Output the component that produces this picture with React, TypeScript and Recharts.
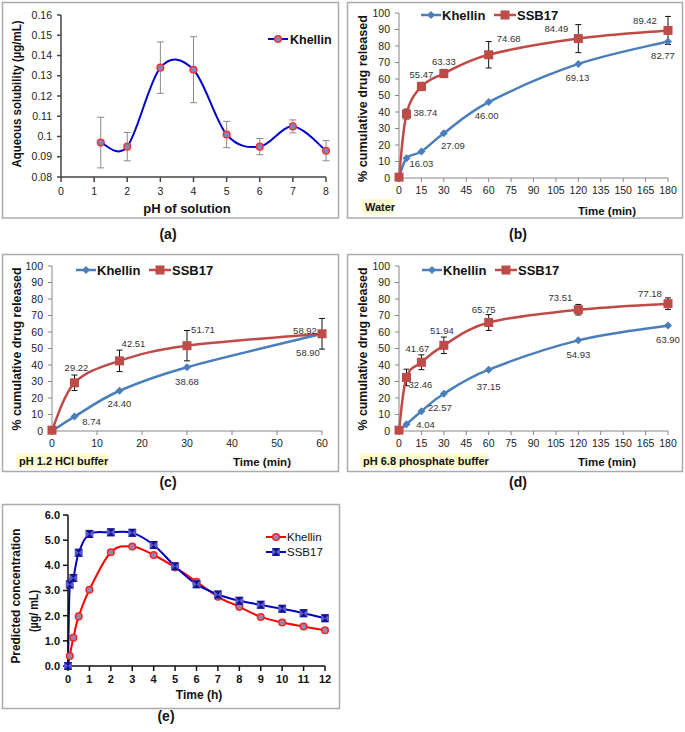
import React from 'react';
import { LineChart, Line, XAxis, YAxis, ErrorBar, LabelList } from 'recharts';

const FONT = '"Liberation Sans", Arial, Helvetica, sans-serif';
const BLUE = '#4a7ebb';
const RED = '#be4b48';

// (a) aqueous solubility vs pH
const phLevels = [1.2, 2, 3, 4, 5, 6, 7, 8];
const solubility = [0.097, 0.095, 0.134, 0.133, 0.101, 0.095, 0.105, 0.093];
const solubilityErr = [0.0125, 0.007, 0.0127, 0.0163, 0.0065, 0.004, 0.0032, 0.005];
const phTicks = [0, 1, 2, 3, 4, 5, 6, 7, 8];
const solubilityTicks = [0.08, 0.09, 0.1, 0.11, 0.12, 0.13, 0.14, 0.15, 0.16];

// release profiles
const percentTicks = [0, 10, 20, 30, 40, 50, 60, 70, 80, 90, 100];
const sampleMin = [0, 5, 15, 30, 60, 120, 180];
const minTicks180 = [0, 15, 30, 45, 60, 75, 90, 105, 120, 135, 150, 165, 180];

// (b) water
const waterKhellin = [0, 12, 16.03, 27.09, 46.0, 69.13, 82.77];
const waterSsb = [0.5, 38.74, 55.47, 63.33, 74.68, 84.49, 89.42];
const waterSsbErr = [0, 3, 2.5, 2.5, 8, 8.5, 8.5];
const waterKhellinLbl = ['', '', '16.03', '27.09', '46.00', '69.13', '82.77'];
const waterSsbLbl = ['', '38.74', '55.47', '63.33', '74.68', '84.49', '89.42'];

// (c) pH 1.2 HCl buffer
const sampleMinHcl = [0, 5, 15, 30, 60];
const minTicks60 = [0, 10, 20, 30, 40, 50, 60];
const hclKhellin = [0, 8.74, 24.4, 38.68, 58.9];
const hclSsb = [0.5, 29.22, 42.51, 51.71, 58.92];
const hclSsbErr = [0, 4.7, 6.5, 9.2, 9.3];
const hclKhellinLbl = ['', '8.74', '24.40', '38.68', '58.90'];
const hclSsbLbl = ['', '29.22', '42.51', '51.71', '58.92'];

// (d) pH 6.8 phosphate buffer
const phosKhellin = [0, 4.04, 12, 22.57, 37.15, 54.93, 63.9];
const phosSsb = [0.5, 32.46, 41.67, 51.94, 65.75, 73.51, 77.18];
const phosSsbErr = [0, 5, 4.5, 5, 4.8, 3.2, 3.5];
const phosKhellinLbl = ['', '4.04', '', '22.57', '37.15', '54.93', '63.90'];
const phosSsbLbl = ['', '32.46', '41.67', '51.94', '65.75', '73.51', '77.18'];

// (e) predicted plasma concentration
const pkHours = [0, 0.083, 0.25, 0.5, 1, 2, 3, 4, 5, 6, 7, 8, 9, 10, 11, 12];
const pkKhellin = [0, 0.4, 1.12, 1.97, 3.03, 4.52, 4.75, 4.41, 3.92, 3.35, 2.75, 2.35, 1.95, 1.73, 1.57, 1.42];
const pkSsb = [0, 3.24, 3.5, 4.5, 5.25, 5.31, 5.29, 4.81, 3.96, 3.25, 2.84, 2.59, 2.43, 2.27, 2.1, 1.9];
const hourTicks = [0, 1, 2, 3, 4, 5, 6, 7, 8, 9, 10, 11, 12];
const concTicks = [0, 1, 2, 3, 4, 5, 6];

// label nudges (px) per point
type Off = number[][];
const waterKhOff: Off = [[0, 0], [0, 0], [0, 12], [9, 12], [-2, 14], [-1, 14], [-5, 14]];
const waterSsbOff: Off = [[0, 0], [19, -1], [0, -12], [0, -12], [20, -16], [-22, -10], [-23, -10]];
const hclKhOff: Off = [[0, 0], [17, 5], [0, 13], [0, 14], [-14, 19]];
const hclSsbOff: Off = [[0, 0], [2, -15], [14, -17], [16, -16], [-17, -3]];
const phosKhOff: Off = [[0, 0], [19, 0], [0, 0], [-4, 14], [0, 17], [0, 14], [0, 14]];
const phosSsbOff: Off = [[0, 0], [14, 7], [-4, -14], [-2, -15], [-5, -13], [-18, -12], [-18, -10]];

// Excel-like smoothed line (catmull-rom style bezier)
const excelSmooth: any = (ctx: any) => {
  let pts: number[][] = [];
  return {
    areaStart() {},
    areaEnd() {},
    lineStart() {
      pts = [];
    },
    point(x: number, y: number) {
      pts.push([+x, +y]);
    },
    lineEnd() {
      if (!pts.length) return;
      ctx.moveTo(pts[0][0], pts[0][1]);
      for (let i = 0; i < pts.length - 1; i++) {
        const p0 = pts[i - 1] || pts[i];
        const p1 = pts[i];
        const p2 = pts[i + 1];
        const p3 = pts[i + 2] || p2;
        ctx.bezierCurveTo(
          p1[0] + (p2[0] - p0[0]) / 6,
          p1[1] + (p2[1] - p0[1]) / 6,
          p2[0] - (p3[0] - p1[0]) / 6,
          p2[1] - (p3[1] - p1[1]) / 6,
          p2[0],
          p2[1]
        );
      }
    },
  };
};

const dataLabel = (offsets: Off) => (p: any) => {
  if (p.value === '' || p.value == null) return null;
  const vb = p.viewBox || {};
  const x = p.x ?? vb.x;
  const y = p.y ?? vb.y;
  const [dx, dy] = offsets[p.index] || [0, 0];
  return (
    <text x={x + dx} y={y + dy} dy="0.35em" textAnchor="middle" fontSize={9.5} fill="#333" fontFamily={FONT}>
      {p.value}
    </text>
  );
};

const diamondDot = (color: string, r: number) => (p: any) => {
  const { cx, cy, index } = p;
  if (cx == null || cy == null) return <g key={`d${index}`} />;
  return (
    <polygon key={`d${index}`} points={`${cx},${cy - r} ${cx + r},${cy} ${cx},${cy + r} ${cx - r},${cy}`} fill={color} />
  );
};

const squareDot = (color: string, s: number) => (p: any) => {
  const { cx, cy, index } = p;
  if (cx == null || cy == null) return <g key={`s${index}`} />;
  return <rect key={`s${index}`} x={cx - s / 2} y={cy - s / 2} width={s} height={s} fill={color} />;
};

const ringDot = (stroke: string, fill: string, r: number) => (p: any) => {
  const { cx, cy, index } = p;
  if (cx == null || cy == null) return <g key={`c${index}`} />;
  return <circle key={`c${index}`} cx={cx} cy={cy} r={r} fill={fill} stroke={stroke} strokeWidth={1.5} />;
};

const bowtieDot = (p: any) => {
  const { cx, cy, index } = p;
  if (cx == null || cy == null) return <g key={`b${index}`} />;
  const s = 4;
  return (
    <g key={`b${index}`}>
      <rect x={cx - s} y={cy - s} width={2 * s} height={2 * s} fill="#5a5ad0" />
      <polygon points={`${cx - s},${cy - s} ${cx + s},${cy - s} ${cx},${cy} `} fill="#12128a" />
      <polygon points={`${cx - s},${cy + s} ${cx + s},${cy + s} ${cx},${cy} `} fill="#12128a" />
    </g>
  );
};

const releaseTick = { fill: '#222', fontSize: 10.5, fontFamily: FONT };

interface ReleaseProps {
  left: number;
  top: number;
  width: number;
  height: number;
  yAxisWidth: number;
  marginTop: number;
  marginRight: number;
  xAxisHeight: number;
  times: number[];
  khellin: number[];
  ssb: number[];
  ssbErr: number[];
  khellinLbl: string[];
  ssbLbl: string[];
  khellinOff: Off;
  ssbOff: Off;
  xMax: number;
  xTicks: number[];
}

const ReleaseChart = (p: ReleaseProps) => {
  const rows = p.times.map((t, i) => ({
    t,
    khellin: p.khellin[i],
    ssb: p.ssb[i],
    ssbErr: p.ssbErr[i],
    kLbl: p.khellinLbl[i],
    sLbl: p.ssbLbl[i],
  }));
  return (
    <div style={{ position: 'absolute', left: p.left, top: p.top }}>
      <LineChart
        width={p.width}
        height={p.height}
        data={rows}
        margin={{ top: p.marginTop, right: p.marginRight, bottom: 0, left: 0 }}
      >
        <XAxis
          dataKey="t"
          type="number"
          domain={[0, p.xMax]}
          ticks={p.xTicks}
          interval={0}
          height={p.xAxisHeight}
          stroke="#868686"
          tick={releaseTick}
          tickSize={4}
          tickMargin={5}
        />
        <YAxis
          type="number"
          domain={[0, 100]}
          ticks={percentTicks}
          interval={0}
          width={p.yAxisWidth}
          stroke="#868686"
          tick={releaseTick}
          tickSize={4}
          tickMargin={5}
        />
        <Line
          dataKey="khellin"
          type={excelSmooth}
          stroke={BLUE}
          strokeWidth={2.5}
          dot={diamondDot(BLUE, 4)}
          activeDot={false}
          isAnimationActive={false}
        >
          <LabelList dataKey="kLbl" content={dataLabel(p.khellinOff)} />
        </Line>
        <Line
          dataKey="ssb"
          type={excelSmooth}
          stroke={RED}
          strokeWidth={2.5}
          dot={squareDot(RED, 9)}
          activeDot={false}
          isAnimationActive={false}
        >
          <ErrorBar dataKey="ssbErr" width={3} stroke="#111" strokeWidth={1} direction="y" isAnimationActive={false} />
          <LabelList dataKey="sLbl" content={dataLabel(p.ssbOff)} />
        </Line>
      </LineChart>
    </div>
  );
};

const SolubilityChart = () => {
  const rows = phLevels.map((ph, i) => ({ ph, sol: solubility[i], err: solubilityErr[i] }));
  return (
    <div style={{ position: 'absolute', left: 0, top: 0 }}>
      <LineChart width={340} height={220} data={rows} margin={{ top: 15, right: 14, bottom: 0, left: 0 }}>
        <XAxis
          dataKey="ph"
          type="number"
          domain={[0, 8]}
          ticks={phTicks}
          interval={0}
          height={43}
          stroke="#444"
          strokeWidth={1.5}
          tick={{ fill: '#222', fontSize: 10.5, fontFamily: FONT }}
          tickSize={5}
          tickMargin={6}
        />
        <YAxis
          type="number"
          domain={[0.08, 0.16]}
          ticks={solubilityTicks}
          interval={0}
          width={61}
          stroke="#444"
          strokeWidth={1.5}
          tick={{ fill: '#222', fontSize: 10.5, fontFamily: FONT }}
          tickSize={4}
          tickMargin={5}
          tickFormatter={(v: number) => String(Number(v.toFixed(2)))}
        />
        <Line
          dataKey="sol"
          type={excelSmooth}
          stroke="#0000cc"
          strokeWidth={2}
          dot={ringDot('#ff3030', '#7a86c8', 3.3)}
          activeDot={false}
          isAnimationActive={false}
        >
          <ErrorBar dataKey="err" width={3.5} stroke="#8a8a8a" strokeWidth={1} direction="y" isAnimationActive={false} />
        </Line>
      </LineChart>
    </div>
  );
};

const PkChart = () => {
  const rows = pkHours.map((h, i) => ({ h, khellin: pkKhellin[i], ssb: pkSsb[i] }));
  const tick = { fill: '#111', fontSize: 11, fontWeight: 700, fontFamily: FONT };
  return (
    <div style={{ position: 'absolute', left: 0, top: 500 }}>
      <LineChart width={345} height={210} data={rows} margin={{ top: 15, right: 20, bottom: 0, left: 0 }}>
        <XAxis
          dataKey="h"
          type="number"
          domain={[0, 12]}
          ticks={hourTicks}
          interval={0}
          height={44}
          stroke="#111"
          strokeWidth={1.5}
          tick={tick}
          tickSize={5}
          tickMargin={4}
        />
        <YAxis
          type="number"
          domain={[0, 6]}
          ticks={concTicks}
          interval={0}
          width={68}
          stroke="#111"
          strokeWidth={1.5}
          tick={tick}
          tickSize={5}
          tickMargin={3}
          tickFormatter={(v: number) => v.toFixed(1)}
        />
        <Line
          dataKey="khellin"
          type={excelSmooth}
          stroke="#ff0000"
          strokeWidth={2}
          dot={ringDot('#ff2020', '#8a8ab4', 3.3)}
          activeDot={false}
          isAnimationActive={false}
        />
        <Line
          dataKey="ssb"
          type={excelSmooth}
          stroke="#0000c0"
          strokeWidth={2}
          dot={bowtieDot}
          activeDot={false}
          isAnimationActive={false}
        />
      </LineChart>
    </div>
  );
};

const bold = { fontFamily: FONT, fontWeight: 700 } as const;

const VTitle = ({ x, y, text, size, len }: { x: number; y: number; text: string; size: number; len: number }) => (
  <text
    transform={`translate(${x},${y}) rotate(-90)`}
    textAnchor="middle"
    dy="0.35em"
    fontSize={size}
    textLength={len}
    lengthAdjust="spacingAndGlyphs"
    fill="#111"
    {...bold}
  >
    {text}
  </text>
);

const ReleaseLegend = ({ x, y }: { x: number; y: number }) => (
  <g>
    <line x1={x} y1={y} x2={x + 20} y2={y} stroke={BLUE} strokeWidth={2.5} />
    <polygon points={`${x + 10},${y - 4} ${x + 14},${y} ${x + 10},${y + 4} ${x + 6},${y}`} fill={BLUE} />
    <text x={x + 21} y={y + 4.5} fontSize={13} fill="#111" {...bold}>
      Khellin
    </text>
    <line x1={x + 73} y1={y} x2={x + 95} y2={y} stroke={RED} strokeWidth={2.5} />
    <rect x={x + 79.5} y={y - 4.5} width={9} height={9} fill={RED} />
    <text x={x + 96} y={y + 4.5} fontSize={13} fill="#111" {...bold}>
      SSB17
    </text>
  </g>
);

const MediumTag = ({ x, y, w, text }: { x: number; y: number; w: number; text: string }) => (
  <g>
    <rect x={x} y={y} width={w} height={15} fill="#fdfbcf" />
    <text x={x + 3} y={y + 11.5} fontSize={11} fill="#111" {...bold}>
      {text}
    </text>
  </g>
);

const Overlay = () => (
  <svg width={685} height={732} style={{ position: 'absolute', left: 0, top: 0, pointerEvents: 'none' }}>
    <g fill="none" stroke="#ababab" strokeWidth={1.5}>
      <rect x={2.5} y={2.5} width={336} height={215.5} />
      <rect x={347.5} y={2.5} width={335} height={215.5} />
      <rect x={2.5} y={254.5} width={336} height={217} />
      <rect x={347.5} y={254.5} width={335} height={217} />
      <rect x={2.5} y={504.5} width={337} height={204} />
    </g>

    {/* (a) */}
    <VTitle x={17} y={94} text="Aqueous solubility (µg/mL)" size={12.5} len={147} />
    <text x={187} y={212.5} textAnchor="middle" fontSize={13} fill="#111" {...bold}>
      pH of solution
    </text>
    <line x1={268} y1={39} x2={288} y2={39} stroke="#0000cc" strokeWidth={2} />
    <circle cx={278} cy={39} r={3.3} fill="#7a86c8" stroke="#ff3030" strokeWidth={1.5} />
    <text x={290} y={43.5} fontSize={12.5} fill="#111" {...bold}>
      Khellin
    </text>
    <text x={168} y={239} textAnchor="middle" fontSize={14} fill="#111" {...bold}>
      (a)
    </text>

    {/* (b) */}
    <VTitle x={362} y={98.5} text="% cumulative drug released" size={13.5} len={167} />
    <ReleaseLegend x={421} y={15} />
    <MediumTag x={362} y={199} w={32} text="Water" />
    <text x={607} y={215} textAnchor="middle" fontSize={11.5} fill="#111" {...bold}>
      Time (min)
    </text>
    <text x={518} y={239} textAnchor="middle" fontSize={14} fill="#111" {...bold}>
      (b)
    </text>

    {/* (c) */}
    <VTitle x={16} y={349} text="% cumulative drug released" size={13.5} len={163} />
    <ReleaseLegend x={76} y={270} />
    <MediumTag x={16} y={453} w={92} text="pH 1.2 HCl buffer" />
    <text x={262} y={466} textAnchor="middle" fontSize={11.5} fill="#111" {...bold}>
      Time (min)
    </text>
    <text x={168} y={487} textAnchor="middle" fontSize={14} fill="#111" {...bold}>
      (c)
    </text>

    {/* (d) */}
    <VTitle x={362} y={349} text="% cumulative drug released" size={13.5} len={163} />
    <ReleaseLegend x={422} y={270} />
    <MediumTag x={360} y={453} w={128} text="pH 6.8 phosphate buffer" />
    <text x={607} y={466} textAnchor="middle" fontSize={11.5} fill="#111" {...bold}>
      Time (min)
    </text>
    <text x={518} y={487} textAnchor="middle" fontSize={14} fill="#111" {...bold}>
      (d)
    </text>

    {/* (e) */}
    <VTitle x={15} y={596} text="Predicted concentration" size={13} len={135} />
    <VTitle x={33} y={611} text="(µg/ mL)" size={13} len={42} />
    <text x={199} y={699} textAnchor="middle" fontSize={12} fill="#111" {...bold}>
      Time (h)
    </text>
    <line x1={266} y1={537} x2={286} y2={537} stroke="#ff0000" strokeWidth={2} />
    <circle cx={276} cy={537} r={3.3} fill="#8a8ab4" stroke="#ff2020" strokeWidth={1.5} />
    <text x={287} y={541} fontSize={11.5} fill="#111" fontFamily={FONT}>
      Khellin
    </text>
    <line x1={266} y1={552} x2={286} y2={552} stroke="#0000c0" strokeWidth={2} />
    <rect x={272} y={548} width={8} height={8} fill="#5a5ad0" />
    <polygon points="272,548 280,548 276,552" fill="#12128a" />
    <polygon points="272,556 280,556 276,552" fill="#12128a" />
    <text x={287} y={556} fontSize={11.5} fill="#111" fontFamily={FONT}>
      SSB17
    </text>
    <text x={166} y={721} textAnchor="middle" fontSize={14} fill="#111" {...bold}>
      (e)
    </text>
  </svg>
);

export default function App() {
  return (
    <div style={{ position: 'absolute', left: 0, top: 0, width: 685, height: 732, background: '#fff' }}>
      <SolubilityChart />
      <ReleaseChart
        left={340}
        top={0}
        width={345}
        height={220}
        yAxisWidth={59}
        marginTop={13}
        marginRight={17}
        xAxisHeight={42}
        times={sampleMin}
        khellin={waterKhellin}
        ssb={waterSsb}
        ssbErr={waterSsbErr}
        khellinLbl={waterKhellinLbl}
        ssbLbl={waterSsbLbl}
        khellinOff={waterKhOff}
        ssbOff={waterSsbOff}
        xMax={180}
        xTicks={minTicks180}
      />
      <ReleaseChart
        left={0}
        top={250}
        width={340}
        height={222}
        yAxisWidth={52}
        marginTop={16}
        marginRight={18}
        xAxisHeight={41}
        times={sampleMinHcl}
        khellin={hclKhellin}
        ssb={hclSsb}
        ssbErr={hclSsbErr}
        khellinLbl={hclKhellinLbl}
        ssbLbl={hclSsbLbl}
        khellinOff={hclKhOff}
        ssbOff={hclSsbOff}
        xMax={60}
        xTicks={minTicks60}
      />
      <ReleaseChart
        left={340}
        top={250}
        width={345}
        height={222}
        yAxisWidth={59}
        marginTop={16}
        marginRight={17}
        xAxisHeight={41}
        times={sampleMin}
        khellin={phosKhellin}
        ssb={phosSsb}
        ssbErr={phosSsbErr}
        khellinLbl={phosKhellinLbl}
        ssbLbl={phosSsbLbl}
        khellinOff={phosKhOff}
        ssbOff={phosSsbOff}
        xMax={180}
        xTicks={minTicks180}
      />
      <PkChart />
      <Overlay />
    </div>
  );
}
